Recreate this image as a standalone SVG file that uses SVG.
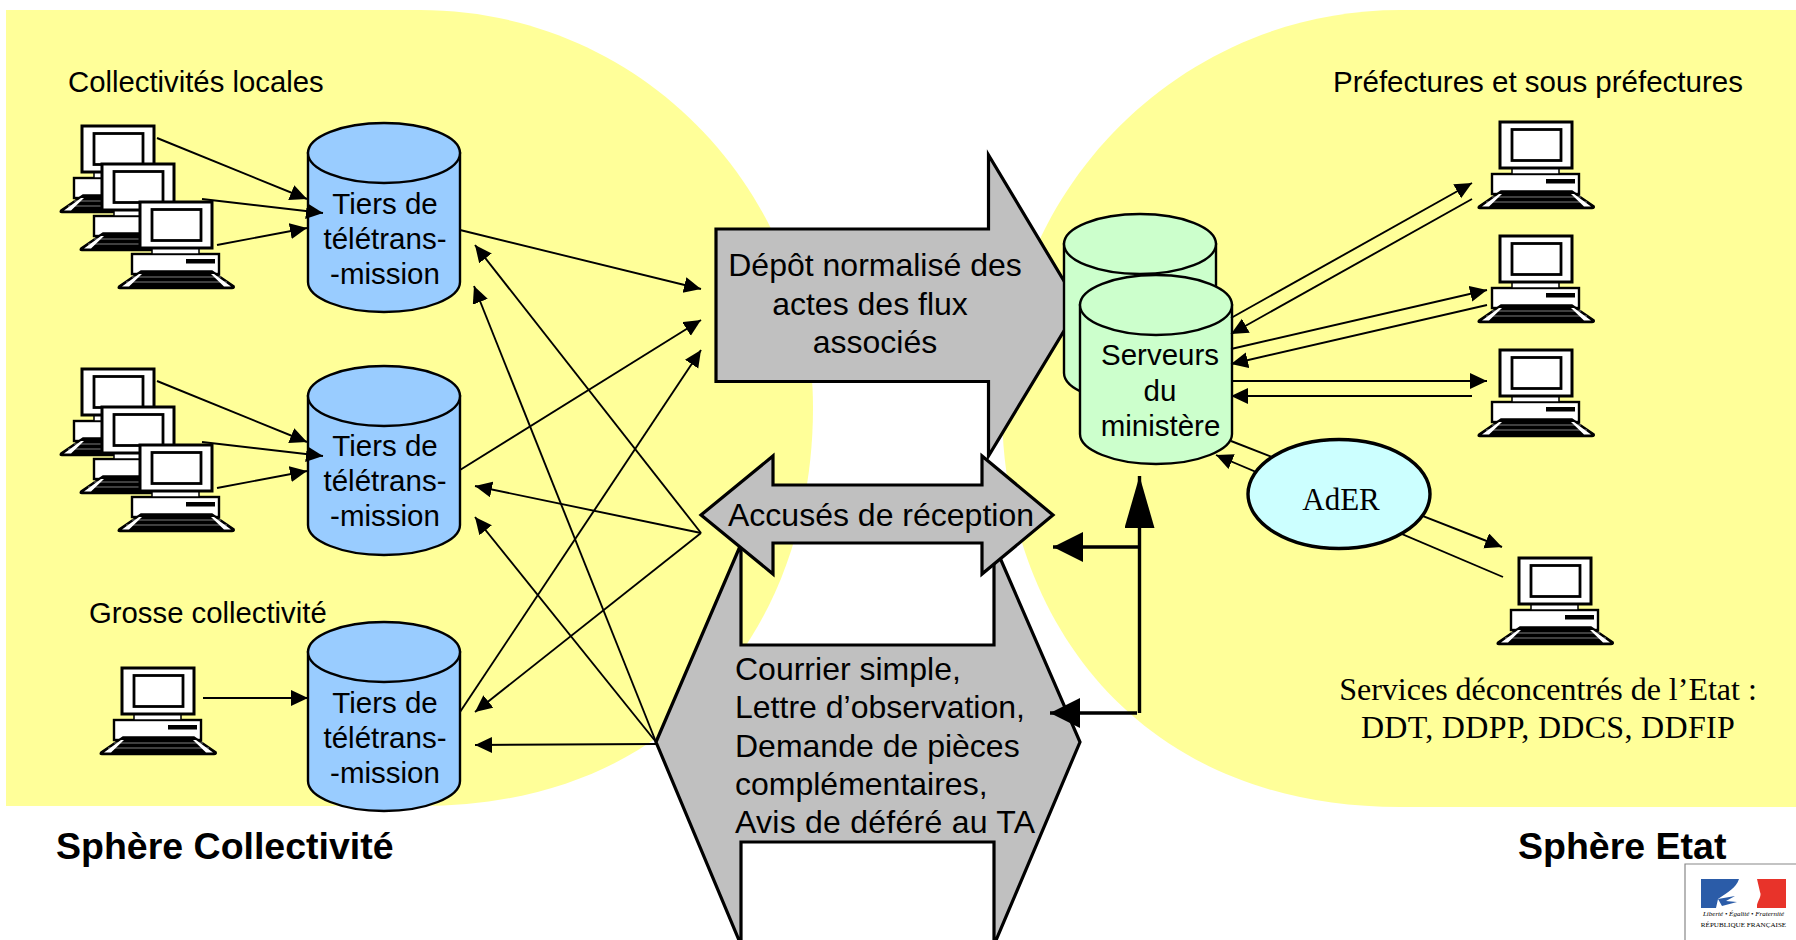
<svg xmlns="http://www.w3.org/2000/svg" width="1796" height="940" viewBox="0 0 1796 940">
<style>
text{font-family:"Liberation Sans",Arial,sans-serif;font-size:29.5px;fill:#000;stroke:none}
.m{text-anchor:middle}
.big{font-size:32px}
.lbl{font-size:29.3px}
.serif{font-family:"Liberation Serif","Times New Roman",serif}
.b{font-weight:bold;font-size:37.5px}
.gray{fill:#c0c0c0;stroke:#000;stroke-width:3.2;stroke-linejoin:miter}
.cylb{fill:#99ccff;stroke:#000;stroke-width:2.4}
.cylg{fill:#ccffcc;stroke:#000;stroke-width:2.4}
#connectors line{stroke:#000;stroke-width:1.9;fill:none}
#connectors line.a{marker-end:url(#ah)}
#connectors line.t{stroke-width:3.4;marker-end:url(#ahb)}
#connectors line.v{stroke-width:3.4;marker-end:url(#ahv)}
</style>
<defs>
<marker id="ah" markerUnits="userSpaceOnUse" markerWidth="20" markerHeight="18" refX="17" refY="8" orient="auto"><path d="M0,0 L17,8 L0,16 Z" fill="#000"/></marker>
<marker id="ahb" markerUnits="userSpaceOnUse" markerWidth="32" markerHeight="32" refX="30" refY="15" orient="auto"><path d="M0,0 L30,15 L0,30 Z" fill="#000"/></marker>
<marker id="ahv" markerUnits="userSpaceOnUse" markerWidth="54" markerHeight="32" refX="52" refY="15" orient="auto"><path d="M0,0 L52,15 L0,30 Z" fill="#000"/></marker>
<g id="pc">
<rect x="-8" y="52" width="87" height="20" fill="#fff" stroke="#000" stroke-width="2.400"/>
<rect x="46" y="57" width="29" height="4.500" fill="#000"/>
<path d="M1,69 L72,69 L94,84 Q95,86.500 92,86.500 L-20,86.500 Q-23,86.500 -21,84 Z" fill="#000" stroke="#000" stroke-width="1.500"/>
<path d="M-18,84.500 L-1,72 L2,72 L-11,84.500 Z M91,84.500 L74,72 L71,72 L84,84.500 Z" fill="#fff"/>
<path d="M-8,75 H81 M-14,80 H87" stroke="#fff" stroke-width=".5" fill="none"/>
<rect x="12" y="46" width="47" height="6" fill="#fff" stroke="#000" stroke-width="1.500"/>
<rect x="0" y="0" width="72" height="46" fill="#fff" stroke="#000" stroke-width="3"/>
<rect x="12" y="7.500" width="49" height="31" fill="#fff" stroke="#000" stroke-width="2.800"/>
</g>
<g id="cyl"><path d="M-76,30 V159 C-76,175 -42,189 0,189 C42,189 76,175 76,159 V30 Z"/><ellipse cx="0" cy="30" rx="76" ry="30"/></g>
</defs>
<rect width="1796" height="940" fill="#fff"/>
<g id="sphere-collectivite"><path d="M6,10 H420 C640,10 813,190 813,408 C813,610 690,806 420,806 H6 Z" fill="#ffff99"/></g>
<g id="sphere-etat"><path d="M1796,10 H1400 C1180,10 1002,190 1002,408 C1002,610 1130,807 1400,807 H1796 Z" fill="#ffff99"/></g>

<g id="node-courrier">
<path class="gray" d="M656,742 L741,544 V645 H994 V544 L1080,742 L994,945 V842 H741 V945 Z"/>
<text class="big" x="735" y="680">Courrier simple,</text>
<text class="big" x="735" y="718">Lettre d’observation,</text>
<text class="big" x="735" y="757">Demande de pièces</text>
<text class="big" x="735" y="795">complémentaires,</text>
<text class="big" x="735" y="833" style="letter-spacing:.25px">Avis de déféré au TA</text>
</g>
<g id="node-accuses">
<path class="gray" d="M701,515 L773,456 V485 H982 V456 L1053,515 L982,574 V543 H773 V574 Z"/>
<text class="m big" x="881" y="526">Accusés de réception</text>
</g>
<g id="node-depot">
<path class="gray" d="M716,229 H988.500 V155 L1079,306 L988.500,456 V381.500 H716 Z"/>
<text class="m big" x="875" y="276">Dépôt normalisé des</text>
<text class="m big" x="870" y="315">actes des flux</text>
<text class="m big" x="875" y="353">associés</text>
</g>

<g id="node-serveur-back" class="cylg"><use href="#cyl" transform="translate(1140,214)"/></g>
<g id="node-serveur-front" class="cylg"><use href="#cyl" transform="translate(1156,275)"/>
<text class="m" x="1160" y="365">Serveurs</text>
<text class="m" x="1160" y="401">du</text>
<text class="m" x="1160.500" y="436">ministère</text></g>

<g id="node-tiers-1" class="cylb"><use href="#cyl" transform="translate(384,123)"/>
<text class="m" x="385" y="214">Tiers de</text><text class="m" x="385" y="249">télétrans-</text><text class="m" x="385" y="284">-mission</text></g>
<g id="node-tiers-2" class="cylb"><use href="#cyl" transform="translate(384,366)"/>
<text class="m" x="385" y="456">Tiers de</text><text class="m" x="385" y="491">télétrans-</text><text class="m" x="385" y="526">-mission</text></g>
<g id="node-tiers-3" class="cylb"><use href="#cyl" transform="translate(384,622)"/>
<text class="m" x="385" y="713">Tiers de</text><text class="m" x="385" y="748">télétrans-</text><text class="m" x="385" y="783">-mission</text></g>

<g id="nodes-pc-local-1"><use href="#pc" x="82" y="126"/><use href="#pc" x="102" y="164"/><use href="#pc" x="140" y="202"/></g>
<g id="nodes-pc-local-2"><use href="#pc" x="82" y="369"/><use href="#pc" x="102" y="407"/><use href="#pc" x="140" y="445"/></g>
<g id="node-pc-grosse"><use href="#pc" x="122" y="668"/></g>
<g id="nodes-pc-pref"><use href="#pc" x="1500" y="122"/><use href="#pc" x="1500" y="236"/><use href="#pc" x="1500" y="350"/></g>
<g id="node-pc-services"><use href="#pc" x="1519" y="558"/></g>

<g id="connectors">
<line class="a" x1="157" y1="138" x2="307" y2="199"/>
<line class="a" x1="202" y1="199" x2="323" y2="213"/>
<line class="a" x1="217" y1="245" x2="307" y2="228"/>
<line class="a" x1="157" y1="381" x2="307" y2="442"/>
<line class="a" x1="202" y1="442" x2="323" y2="456"/>
<line class="a" x1="217" y1="488" x2="307" y2="471"/>
<line class="a" x1="203" y1="698" x2="308" y2="698"/>
<line class="a" x1="460" y1="230" x2="701" y2="289"/>
<line class="a" x1="460" y1="470" x2="701" y2="320"/>
<line class="a" x1="460" y1="712" x2="701" y2="350"/>
<line class="a" x1="701" y1="533" x2="475" y2="245"/>
<line class="a" x1="656" y1="742" x2="474" y2="286"/>
<line class="a" x1="701" y1="533" x2="475" y2="486"/>
<line class="a" x1="656" y1="742" x2="475" y2="517"/>
<line class="a" x1="701" y1="533" x2="475" y2="712"/>
<line class="a" x1="656" y1="744" x2="475" y2="745"/>
<line class="a" x1="1231" y1="318" x2="1472" y2="183"/>
<line class="a" x1="1472" y1="199" x2="1231" y2="334"/>
<line class="a" x1="1231" y1="349" x2="1487" y2="290"/>
<line class="a" x1="1487" y1="305" x2="1231" y2="364"/>
<line class="a" x1="1231" y1="381" x2="1487" y2="381"/>
<line class="a" x1="1472" y1="396" x2="1231" y2="396"/>
<line class="a" x1="1231" y1="441" x2="1502" y2="547"/>
<line class="a" x1="1503" y1="577" x2="1216" y2="455"/>
<line class="v" x1="1139.500" y1="713" x2="1139.500" y2="476"/>
<line class="t" x1="1139.500" y1="547" x2="1053" y2="547"/>
<line class="t" x1="1137" y1="713" x2="1050" y2="713"/>
</g>

<g id="node-ader">
<ellipse cx="1339" cy="494" rx="91" ry="54.500" fill="#ccffff" stroke="#000" stroke-width="3.400"/>
<text class="m serif" x="1341" y="510" style="font-size:31px">AdER</text>
</g>

<g id="labels">
<text class="lbl" x="68" y="92">Collectivités locales</text>
<text class="lbl" x="89" y="623">Grosse collectivité</text>
<text x="1333" y="92">Préfectures et sous préfectures</text>
<text class="m serif big" x="1548" y="700">Services déconcentrés de l’Etat :</text>
<text class="m serif big" x="1548" y="738" style="letter-spacing:.3px">DDT, DDPP, DDCS, DDFIP</text>
<text class="b" x="56" y="859">Sphère Collectivité</text>
<text class="b" x="1518" y="859">Sphère Etat</text>
</g>

<g id="logo">
<path d="M1685,940 V864 H1796" fill="#fff" stroke="#888" stroke-width="1.200"/>
<rect x="1701" y="879" width="85" height="29" fill="#fff"/>
<rect x="1701" y="879" width="38" height="29" fill="#2b5ca8"/>
<rect x="1757" y="879" width="29" height="29" fill="#e8332a"/>
<path d="M1739,879 C1736,888 1728,892 1718,899 L1716,908 H1755 L1757,905 C1758,900 1762,896 1760,892 L1757,879 Z" fill="#fff"/>
<path d="M1718,899 L1735,896 L1726,901 L1737,902 L1722,906 Z" fill="#2b5ca8"/>
<text x="1743.500" y="916" text-anchor="middle" style="font-family:'Liberation Serif',serif;font-style:italic;font-size:7px">Liberté • Égalité • Fraternité</text>
<text x="1743.500" y="927" text-anchor="middle" style="font-family:'Liberation Serif',serif;font-size:7.100px">RÉPUBLIQUE FRANÇAISE</text>
</g>
</svg>
